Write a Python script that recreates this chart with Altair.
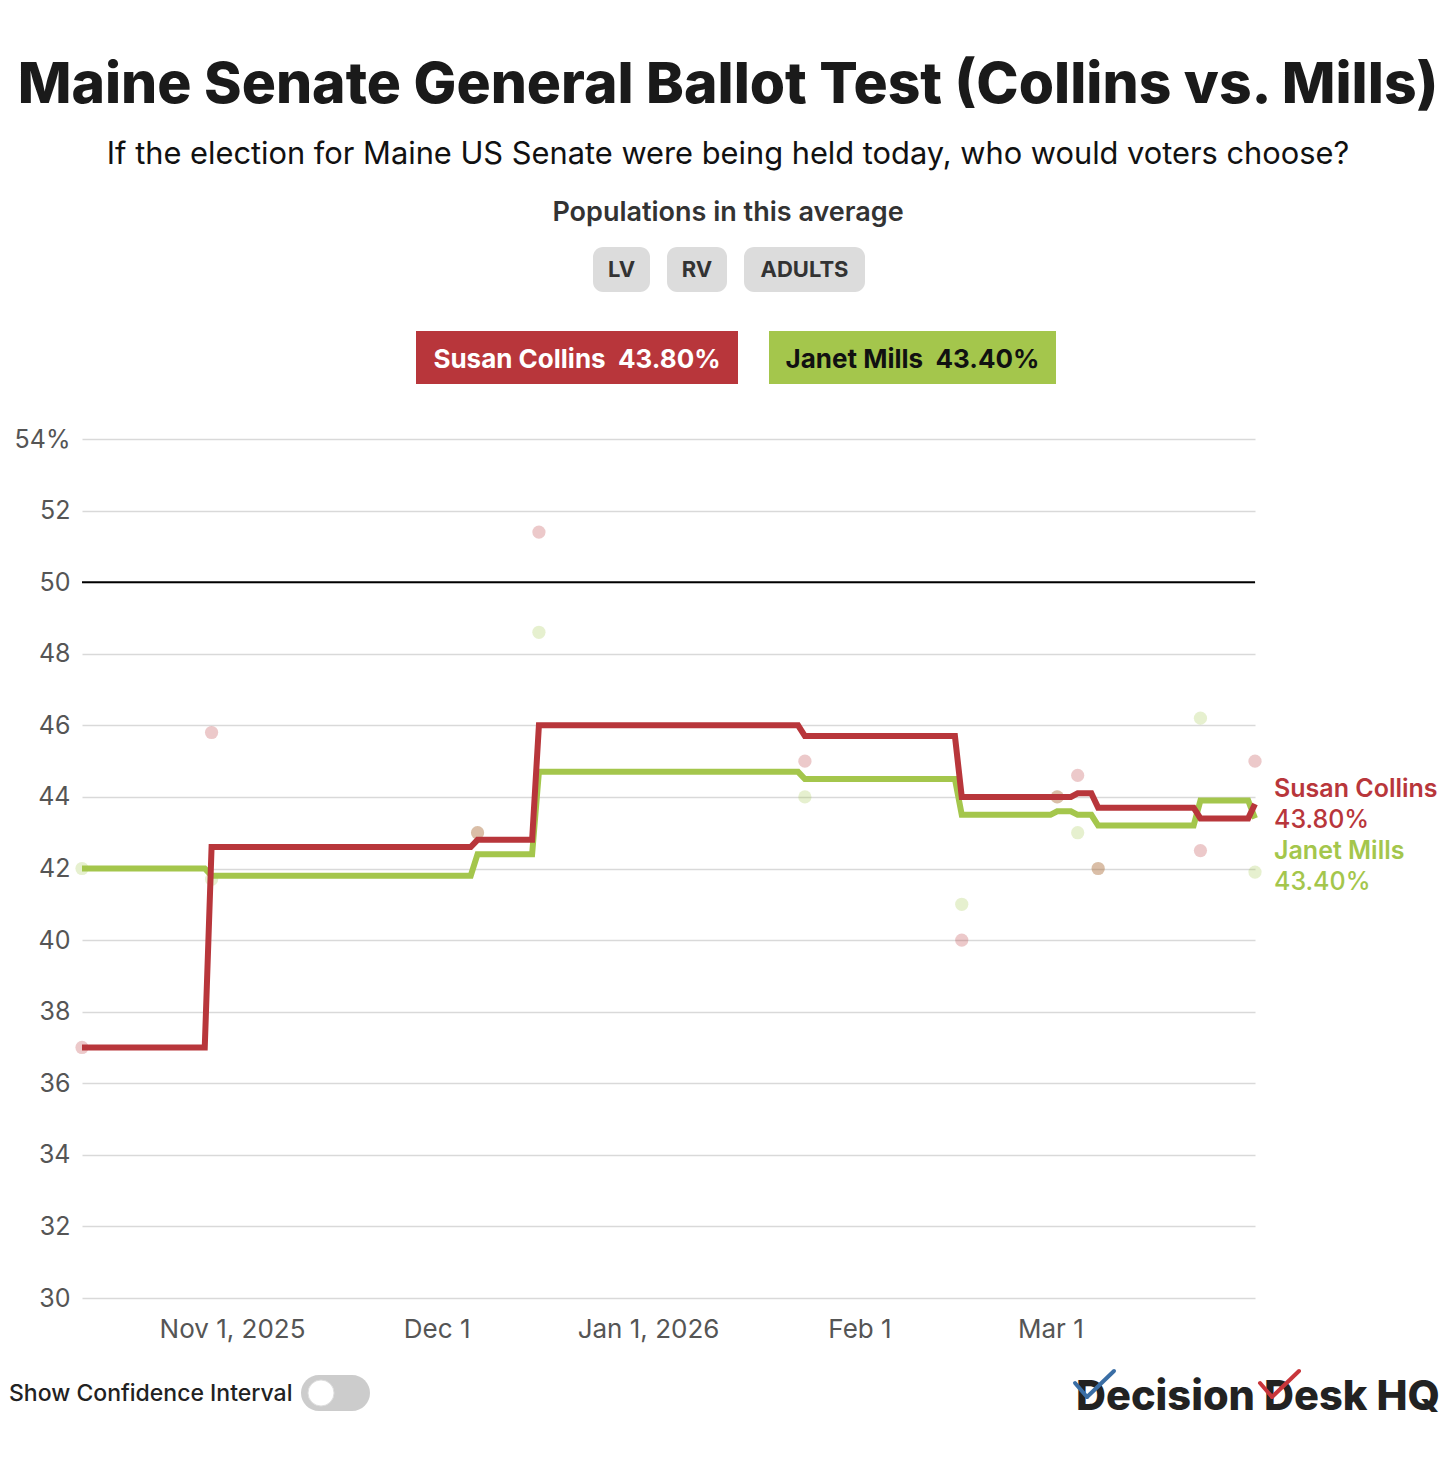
import altair as alt
import pandas as pd

# ---------------- data ----------------
collins_dates = ["2025-10-10", "2025-10-28", "2025-10-29", "2025-12-06", "2025-12-07",
                 "2025-12-15", "2025-12-16", "2026-01-23", "2026-01-24", "2026-02-15",
                 "2026-02-16", "2026-03-04", "2026-03-05", "2026-03-07", "2026-03-08",
                 "2026-03-22", "2026-03-23", "2026-03-30", "2026-03-31"]
collins_vals = [37.0, 37.0, 42.6, 42.6, 42.8,
                42.8, 46.0, 46.0, 45.7, 45.7,
                44.0, 44.0, 44.1, 44.1, 43.7,
                43.7, 43.4, 43.4, 43.8]

mills_dates = ["2025-10-10", "2025-10-28", "2025-10-29", "2025-12-06", "2025-12-07",
               "2025-12-15", "2025-12-16", "2026-01-23", "2026-01-24", "2026-02-15",
               "2026-02-16", "2026-03-01", "2026-03-02", "2026-03-04", "2026-03-05",
               "2026-03-07", "2026-03-08", "2026-03-22", "2026-03-23", "2026-03-30",
               "2026-03-31"]
mills_vals = [42.0, 42.0, 41.8, 41.8, 42.4,
              42.4, 44.7, 44.7, 44.5, 44.5,
              43.5, 43.5, 43.6, 43.6, 43.5,
              43.5, 43.2, 43.2, 43.9, 43.9,
              43.4]

poll_dates = ["2025-10-10", "2025-10-29", "2025-12-07", "2025-12-16", "2026-01-24",
              "2026-02-16", "2026-03-02", "2026-03-05", "2026-03-08", "2026-03-23",
              "2026-03-31"]
collins_polls = [37.0, 45.8, 43.0, 51.4, 45.0, 40.0, 44.0, 44.6, 42.0, 42.5, 45.0]
mills_polls = [42.0, 41.7, 43.0, 48.6, 44.0, 41.0, 44.0, 43.0, 42.0, 46.2, 41.9]

candidates = ["Susan Collins", "Janet Mills"]
latest = ["43.80%", "43.40%"]
y_ticks = [30, 32, 34, 36, 38, 40, 42, 44, 46, 48, 50, 52, 54]
populations = ["LV", "RV", "ADULTS"]

TITLE = "Maine Senate General Ballot Test (Collins vs. Mills)"
SUBTITLE = "If the election for Maine US Senate were being held today, who would voters choose?"

RED = "#b8363b"
GREEN = "#a4c64c"
FONT = "Inter"

# ---------------- tables ----------------
def ts(d):
    return d + "T00:00:00"

lines = pd.DataFrame(
    [{"date": ts(d), "value": v, "cand": candidates[0]} for d, v in zip(collins_dates, collins_vals)]
    + [{"date": ts(d), "value": v, "cand": candidates[1]} for d, v in zip(mills_dates, mills_vals)]
)
polls = pd.DataFrame(
    [{"date": ts(d), "value": v, "cand": candidates[1]} for d, v in zip(poll_dates, mills_polls)]
    + [{"date": ts(d), "value": v, "cand": candidates[0]} for d, v in zip(poll_dates, collins_polls)]
)

W, H = 1173, 859
x_scale = alt.Scale(domain=[alt.DateTime(year=2025, month=10, date=10),
                            alt.DateTime(year=2026, month=3, date=31)], nice=False)
y_scale = alt.Scale(domain=[30, 54], nice=False, zero=False)
color_scale = alt.Scale(domain=candidates, range=[RED, GREEN])

x_axis = alt.Axis(
    values=[alt.DateTime(year=2025, month=11, date=1), alt.DateTime(year=2025, month=12, date=1),
            alt.DateTime(year=2026, month=1, date=1), alt.DateTime(year=2026, month=2, date=1),
            alt.DateTime(year=2026, month=3, date=1)],
    labelExpr="(month(datum.value) == 10 || month(datum.value) == 0) ? timeFormat(datum.value, '%b %-d, %Y') : timeFormat(datum.value, '%b %-d')",
    title=None, grid=False, domain=False, ticks=False,
    labelFontSize=26, labelColor="#555555", labelFont=FONT, labelPadding=18,
)
y_axis = alt.Axis(
    values=y_ticks, labelExpr="datum.value == 54 ? '54%' : datum.label",
    title=None, grid=True, gridColor="#d9d9d9", gridWidth=1.5, domain=False, ticks=False,
    labelFontSize=25, labelColor="#555555", labelFont=FONT, labelPadding=12,
)

base_x = alt.X("date:T", scale=x_scale, axis=x_axis)
base_y = alt.Y("value:Q", scale=y_scale, axis=y_axis)

dots = alt.Chart(polls).mark_circle(size=175, opacity=0.27).encode(
    x=base_x, y=base_y,
    color=alt.Color("cand:N", scale=color_scale, legend=None),
)

fifty = alt.Chart(pd.DataFrame({"value": [50]})).mark_rule(color="#000000", strokeWidth=2).encode(
    y=alt.Y("value:Q", scale=y_scale, axis=y_axis)
)

line_mills = alt.Chart(lines[lines["cand"] == candidates[1]]).mark_line(
    strokeWidth=6, color=GREEN, strokeJoin="miter").encode(x=base_x, y=base_y)
line_collins = alt.Chart(lines[lines["cand"] == candidates[0]]).mark_line(
    strokeWidth=6, color=RED, strokeJoin="miter").encode(x=base_x, y=base_y)

ONE = alt.Data(values=[{}])


def txt(text, x, y, size, weight="normal", color="#222222", align="center", font=FONT):
    return alt.Chart(ONE).mark_text(
        text=text, fontSize=size, fontWeight=weight, color=color, align=align,
        baseline="alphabetic", font=font,
    ).encode(x=alt.value(x), y=alt.value(y))


def box(x1, y1, x2, y2, color, radius=0):
    return alt.Chart(ONE).mark_rect(color=color, cornerRadius=radius).encode(
        x=alt.value(x1), x2=alt.value(x2), y=alt.value(y1), y2=alt.value(y2))


def seg(x1, y1, x2, y2, color, width=4):
    return alt.Chart(ONE).mark_rule(color=color, strokeWidth=width, strokeCap="round").encode(
        x=alt.value(x1), x2=alt.value(x2), y=alt.value(y1), y2=alt.value(y2))


NB = "\u00a0\u00a0"
deco = [
    txt(TITLE, 646, -336, 57, weight=800, color="#1a1a1a"),
    txt(SUBTITLE, 646, -275, 30.8, weight=400, color="#111111"),
    txt("Populations in this average", 646, -218, 27, weight=600, color="#333333"),
    box(511, -192, 568, -147, "#dcdcdc", 10),
    box(585, -192, 645, -147, "#dcdcdc", 10),
    box(662, -192, 783, -147, "#dcdcdc", 10),
    txt(populations[0], 539.5, -162, 22, weight=700, color="#333333"),
    txt(populations[1], 615, -162, 22, weight=700, color="#333333"),
    txt(populations[2], 722.5, -162, 22, weight=700, color="#333333"),
    box(334, -108, 656, -55, RED),
    box(687, -108, 974, -55, GREEN),
    txt(candidates[0] + NB + latest[0], 495, -71, 26, weight=700, color="#ffffff"),
    txt(candidates[1] + NB + latest[1], 830.5, -71, 26, weight=700, color="#111111"),
    txt(candidates[0], 1192, 358, 25, weight=600, color=RED, align="left"),
    txt(latest[0], 1192, 389, 25, weight=500, color=RED, align="left"),
    txt(candidates[1], 1192, 420, 25, weight=600, color=GREEN, align="left"),
    txt(latest[1], 1192, 451, 25, weight=500, color=GREEN, align="left"),
    txt("Show Confidence Interval", -73, 962, 23, weight=500, color="#222222", align="left"),
    box(219, 936, 288, 972, "#cccccc", 18),
    alt.Chart(ONE).mark_circle(size=680, color="#ffffff", opacity=1, stroke="#dddddd", strokeWidth=1).encode(
        x=alt.value(239), y=alt.value(954)),
    txt("Decision Desk HQ", 994, 971, 41.5, weight=800, color="#222222", align="left"),
    seg(993, 944, 1005, 958, "#3a6ea5"),
    seg(1005, 958, 1032, 932, "#3a6ea5"),
    seg(1178, 944, 1190, 958, "#c8363b"),
    seg(1190, 958, 1217, 932, "#c8363b"),
]

chart = alt.layer(dots, fifty, line_mills, line_collins, *deco).properties(
    width=W, height=H,
    background="#ffffff",
    autosize=alt.AutoSizeParams(type="none"),
    padding={"left": 74, "top": 431, "right": 193, "bottom": 140},
).configure_view(stroke=None)

chart.save("out.html", embed_options={"renderer": "svg", "actions": False})
